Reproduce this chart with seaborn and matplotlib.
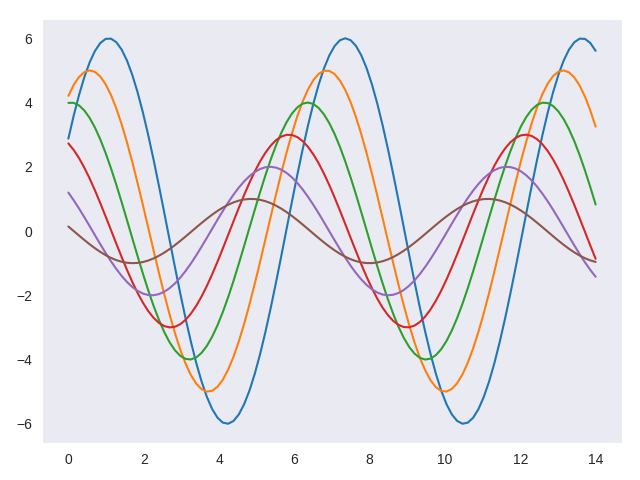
import numpy as np
import matplotlib
matplotlib.use("Agg")
import matplotlib.pyplot as plt
import seaborn as sns

# curve parameters
amplitudes = [6, 5, 4, 3, 2, 1]
phases = [0.5, 1.0, 1.5, 2.0, 2.5, 3.0]
x_start, x_end, n_points = 0, 14, 100

sns.set_style("dark")
plt.rcParams['font.family'] = ['Liberation Sans', 'DejaVu Sans']

fig, ax = plt.subplots(figsize=(6.4, 4.8), dpi=100)
x = np.linspace(x_start, x_end, n_points)
for amp, ph in zip(amplitudes, phases):
    sns.lineplot(x=x, y=np.sin(x + ph) * amp, ax=ax)

fig.subplots_adjust(left=42 / 640, right=622 / 640, top=1 - 19 / 480, bottom=1 - 443 / 480)
plt.savefig("out.png")
